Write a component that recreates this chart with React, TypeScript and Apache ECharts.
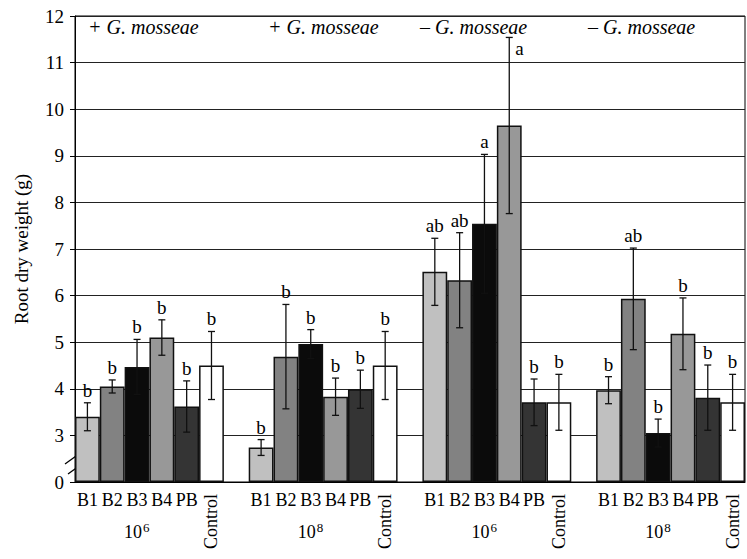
import React, { useEffect, useRef } from 'react';
import * as echarts from 'echarts';

// ---- data ----
const groupTitles = ['+ G. mosseae', '+ G. mosseae', '\u2013 G. mosseae', '\u2013 G. mosseae'];
const doseBase = ['10', '10', '10', '10'];
const doseExp = ['6', '8', '6', '8'];
const treatments = ['B1', 'B2', 'B3', 'B4', 'PB', 'Control'];
const treatmentColors = ['#c0c0c0', '#828282', '#0b0b0b', '#989898', '#343434', '#ffffff'];

const meansG1 = [3.40, 4.05, 4.47, 5.10, 3.62, 4.50];
const meansG2 = [2.74, 4.69, 4.96, 3.83, 3.99, 4.50];
const meansG3 = [6.51, 6.33, 7.54, 9.65, 3.71, 3.71];
const meansG4 = [3.97, 5.93, 3.05, 5.18, 3.81, 3.71];

const errG1 = [0.30, 0.14, 0.59, 0.38, 0.55, 0.73];
const errG2 = [0.17, 1.12, 0.31, 0.40, 0.41, 0.73];
const errG3 = [0.72, 1.02, 1.49, 1.89, 0.50, 0.60];
const errG4 = [0.29, 1.09, 0.30, 0.77, 0.70, 0.60];

const lettersG1 = ['b', 'b', 'b', 'b', 'b', 'b'];
const lettersG2 = ['b', 'b', 'b', 'b', 'b', 'b'];
const lettersG3 = ['ab', 'ab', 'a', 'a', 'b', 'b'];
const lettersG4 = ['b', 'ab', 'b', 'b', 'b', 'b'];

const yTickLabels = ['0', '3', '4', '5', '6', '7', '8', '9', '10', '11', '12'];
const axisBase = 2; // true value at the bottom of the broken axis

const FONT = 'Liberation Serif';

export default function App() {
  const ref = useRef<HTMLDivElement>(null);

  useEffect(() => {
    if (!ref.current) return;
    const chart = echarts.init(ref.current, undefined, { renderer: 'svg' });

    const means = [meansG1, meansG2, meansG3, meansG4];
    const errs = [errG1, errG2, errG3, errG4];
    const letters = [lettersG1, lettersG2, lettersG3, lettersG4];

    const nSlots = groupTitles.length * (treatments.length + 1) - 1;
    const slotLabels: string[] = new Array(nSlots).fill('');
    const controlLabels: string[] = new Array(nSlots).fill('');
    const barData: any[] = new Array(nSlots).fill('-');
    const errData: number[][] = [];
    const errLetters: string[] = [];
    const doseData: number[][] = [];

    groupTitles.forEach((_, g) => {
      const start = g * (treatments.length + 1);
      doseData.push([start + 2, 0, g]);
      treatments.forEach((t, i) => {
        const slot = start + i;
        if (t === 'Control') controlLabels[slot] = t;
        else slotLabels[slot] = t;
        const m = means[g][i];
        barData[slot] = { value: m - axisBase, itemStyle: { color: treatmentColors[i] } };
        errData.push([slot, m - axisBase, errs[g][i]]);
        errLetters.push(letters[g][i]);
      });
    });

    const titleXs = [88, 268, 420, 588];

    chart.setOption({
      animation: false,
      textStyle: { fontFamily: FONT },
      grid: { left: 75, right: 2, top: 16, bottom: 77, show: true, borderColor: '#000', borderWidth: 1 },
      xAxis: [
        {
          type: 'category',
          data: slotLabels,
          position: 'bottom',
          axisLine: { show: true, lineStyle: { color: '#000', width: 1 } },
          axisTick: { show: false },
          splitLine: { show: false },
          axisLabel: { interval: 0, fontSize: 18, fontFamily: FONT, color: '#000', margin: 9 },
        },
        {
          type: 'category',
          data: controlLabels,
          position: 'bottom',
          offset: 0,
          axisLine: { show: false },
          axisTick: { show: false },
          splitLine: { show: false },
          axisLabel: { interval: 0, rotate: 90, fontSize: 18, fontFamily: FONT, color: '#000', margin: 12 },
        },
      ],
      yAxis: {
        type: 'value',
        min: 0,
        max: 10,
        interval: 1,
        name: 'Root dry weight (g)',
        nameLocation: 'middle',
        nameGap: 44,
        nameTextStyle: { fontSize: 19, fontFamily: FONT, color: '#000' },
        axisLine: { show: true, lineStyle: { color: '#000', width: 1 } },
        axisTick: { show: true, length: 5, lineStyle: { color: '#000' } },
        axisLabel: {
          fontSize: 19,
          fontFamily: FONT,
          color: '#000',
          margin: 11,
          formatter: (v: number) => yTickLabels[Math.round(v)] ?? '',
        },
        splitLine: { show: true, lineStyle: { color: '#222', width: 1 } },
      },
      series: [
        {
          type: 'bar',
          xAxisIndex: 0,
          data: barData,
          barCategoryGap: '0%',
          itemStyle: { borderColor: '#111', borderWidth: 1.5 },
        },
        {
          type: 'custom',
          xAxisIndex: 0,
          clip: false,
          z: 5,
          data: errData,
          renderItem: (params: any, api: any) => {
            const x = api.value(0);
            const m = api.value(1);
            const e = api.value(2);
            const top = api.coord([x, m + e]);
            const bot = api.coord([x, m - e]);
            const cx = top[0];
            const cap = 3.5;
            const nearTop = m + e > 9.2;
            const ls = { stroke: '#111', lineWidth: 1.3 };
            return {
              type: 'group',
              children: [
                { type: 'line', shape: { x1: cx, y1: top[1], x2: cx, y2: bot[1] }, style: ls },
                { type: 'line', shape: { x1: cx - cap, y1: top[1], x2: cx + cap, y2: top[1] }, style: ls },
                { type: 'line', shape: { x1: cx - cap, y1: bot[1], x2: cx + cap, y2: bot[1] }, style: ls },
                {
                  type: 'text',
                  x: nearTop ? cx + 6 : cx,
                  y: nearTop ? top[1] + 11 : top[1] - 12.5,
                  style: {
                    text: errLetters[params.dataIndex],
                    fill: '#000',
                    fontSize: 19,
                    fontFamily: FONT,
                    align: nearTop ? 'left' : 'center',
                    verticalAlign: 'middle',
                  },
                },
              ],
            };
          },
        },
        {
          type: 'custom',
          xAxisIndex: 0,
          clip: false,
          data: doseData,
          renderItem: (params: any, api: any) => {
            const p = api.coord([api.value(0), 0]);
            const g = api.value(2);
            return {
              type: 'group',
              children: [
                {
                  type: 'text',
                  x: p[0] + 5,
                  y: p[1] + 50,
                  style: { text: doseBase[g], fill: '#000', fontSize: 18, fontFamily: FONT, align: 'right', verticalAlign: 'middle' },
                },
                {
                  type: 'text',
                  x: p[0] + 6,
                  y: p[1] + 45,
                  style: { text: doseExp[g], fill: '#000', fontSize: 13, fontFamily: FONT, align: 'left', verticalAlign: 'middle' },
                },
              ],
            };
          },
        },
      ],
      graphic: [
        ...groupTitles.map((t, i) => ({
          type: 'text',
          x: titleXs[i],
          y: 27,
          style: { text: t, fill: '#000', fontSize: 20, fontStyle: 'italic', fontFamily: FONT, align: 'left', verticalAlign: 'middle' },
        })),
        { type: 'line', shape: { x1: 65, y1: 464, x2: 83, y2: 451 }, style: { stroke: '#000', lineWidth: 1.3 } },
        { type: 'line', shape: { x1: 68, y1: 474, x2: 86, y2: 461 }, style: { stroke: '#000', lineWidth: 1.3 } },
      ],
    });

    return () => chart.dispose();
  }, []);

  return <div ref={ref} style={{ position: 'absolute', left: 0, top: 0, width: 747, height: 559 }} />;
}
